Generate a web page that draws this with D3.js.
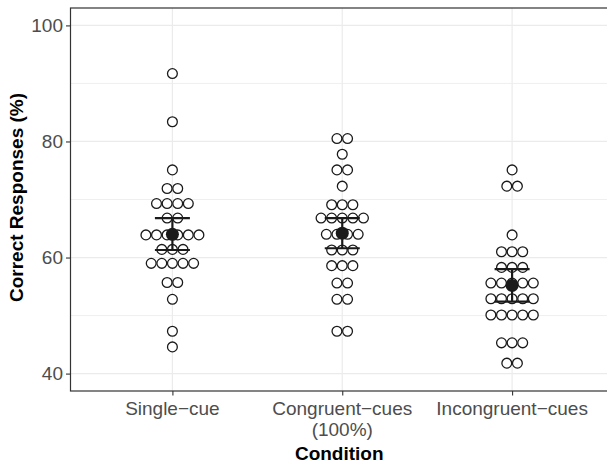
<!DOCTYPE html>
<html>
<head>
<meta charset="utf-8">
<script src="https://cdn.jsdelivr.net/npm/d3@7"></script>
<style>
  body { margin: 0; background: #fff; }
  svg { display: block; font-family: "Liberation Sans", Arial, sans-serif; }
</style>
</head>
<body>
<div id="chart"></div>
<script>
// categories (lines of each x label)
var conditions = ["Single-cue", "Congruent-cues", "Incongruent-cues"];
var conditionLabels = [["Single\u2212cue"], ["Congruent\u2212cues", "(100%)"], ["Incongruent\u2212cues"]];

// individual scores (% correct)
var singleCue = [91.7, 83.4, 75.1, 71.9, 71.9, 69.3, 69.3, 69.3, 69.3, 66.8, 66.8,
    63.9, 63.9, 63.9, 63.9, 63.9, 63.9, 61.4, 61.4, 61.4,
    59.0, 59.0, 59.0, 59.0, 59.0, 55.7, 55.7, 52.8, 47.3, 44.6];
var congruentCues = [80.5, 80.5, 77.8, 75.1, 75.1, 72.3, 69.1, 69.1, 69.1,
    66.8, 66.8, 66.8, 66.8, 66.8, 64.0, 64.0, 64.0, 64.0, 61.3, 61.3, 61.3,
    58.6, 58.6, 58.6, 55.6, 55.6, 52.8, 52.8, 47.3, 47.3];
var incongruentCues = [75.1, 72.3, 72.3, 63.9, 61.0, 61.0, 61.0, 58.3, 58.3, 58.3,
    55.6, 55.6, 55.6, 55.6, 55.6, 52.9, 52.9, 52.9, 52.9, 52.9,
    50.1, 50.1, 50.1, 50.1, 50.1, 45.3, 45.3, 45.3, 41.8, 41.8];

// summary: mean and interval
var means = [64.0, 64.2, 55.2];
var ciLow = [61.3, 61.6, 52.4];
var ciHigh = [66.8, 66.8, 58.0];

var yTicks = [40, 60, 80, 100];
var yMinor = [50, 70, 90];

var svgWidth = 607;
var svgHeight = 465;
var panel = { left: 70.5, top: 8, right: 614, bottom: 391 };

var svg = d3.select("#chart")
    .append("svg")
    .attr("width", svgWidth)
    .attr("height", svgHeight);

var x = d3.scalePoint()
    .domain(conditions)
    .range([panel.left, panel.right])
    .padding(0.6);

var y = d3.scaleLinear()
    .domain([37, 103])
    .range([panel.bottom, panel.top]);

// grid
var grid = svg.append("g");
grid.selectAll(".minor")
    .data(yMinor)
    .enter()
    .append("line")
    .attr("x1", panel.left).attr("x2", panel.right)
    .attr("y1", d => y(d)).attr("y2", d => y(d))
    .attr("stroke", "#ebebeb")
    .attr("stroke-width", 0.8);
grid.selectAll(".major")
    .data(yTicks)
    .enter()
    .append("line")
    .attr("x1", panel.left).attr("x2", panel.right)
    .attr("y1", d => y(d)).attr("y2", d => y(d))
    .attr("stroke", "#ebebeb")
    .attr("stroke-width", 1.2);
grid.selectAll(".vert")
    .data(conditions)
    .enter()
    .append("line")
    .attr("x1", d => x(d)).attr("x2", d => x(d))
    .attr("y1", panel.top).attr("y2", panel.bottom)
    .attr("stroke", "#ebebeb")
    .attr("stroke-width", 1.2);

// dots, stacked centred in each row
var dotStep = 10.6;
var groups = [singleCue, congruentCues, incongruentCues];
var dots = [];
groups.forEach(function(values, gi) {
    var rows = d3.group(values, v => v);
    rows.forEach(function(members, v) {
        members.forEach(function(m, i) {
            dots.push({ cond: conditions[gi], value: v, offset: i - (members.length - 1) / 2 });
        });
    });
});

svg.append("g")
    .selectAll("circle")
    .data(dots)
    .enter()
    .append("circle")
    .attr("cx", d => x(d.cond) + d.offset * dotStep)
    .attr("cy", d => y(d.value))
    .attr("r", 4.9)
    .attr("fill", "#fff")
    .attr("stroke", "#1a1a1a")
    .attr("stroke-width", 1.3);

// error bars and means
var summary = conditions.map((c, i) => ({ cond: c, mean: means[i], lo: ciLow[i], hi: ciHigh[i] }));
var eb = svg.append("g").selectAll("g")
    .data(summary)
    .enter()
    .append("g")
    .attr("stroke", "#1a1a1a")
    .attr("stroke-width", 2.2);
eb.append("line")
    .attr("x1", d => x(d.cond)).attr("x2", d => x(d.cond))
    .attr("y1", d => y(d.lo)).attr("y2", d => y(d.hi));
eb.append("line")
    .attr("x1", d => x(d.cond) - 17.5).attr("x2", d => x(d.cond) + 17.5)
    .attr("y1", d => y(d.lo)).attr("y2", d => y(d.lo));
eb.append("line")
    .attr("x1", d => x(d.cond) - 17.5).attr("x2", d => x(d.cond) + 17.5)
    .attr("y1", d => y(d.hi)).attr("y2", d => y(d.hi));
svg.append("g")
    .selectAll("circle")
    .data(summary)
    .enter()
    .append("circle")
    .attr("cx", d => x(d.cond))
    .attr("cy", d => y(d.mean))
    .attr("r", 6.5)
    .attr("fill", "#1a1a1a");

// panel border
svg.append("rect")
    .attr("x", panel.left)
    .attr("y", panel.top)
    .attr("width", panel.right - panel.left)
    .attr("height", panel.bottom - panel.top)
    .attr("fill", "none")
    .attr("stroke", "#333")
    .attr("stroke-width", 1.2);

// axes
var leftAxis = d3.axisLeft(y).tickValues(yTicks).tickSize(4.5).tickPadding(3);
var yAxis = svg.append("g")
    .attr("transform", `translate(${panel.left}, 0)`)
    .call(leftAxis);
yAxis.select(".domain").remove();
yAxis.selectAll("line").attr("stroke", "#333").attr("stroke-width", 1.1);
yAxis.selectAll("text")
    .attr("font-size", "19px")
    .attr("font-family", "Liberation Sans, Arial, sans-serif")
    .attr("fill", "#4d4d4d");

var bottomAxis = d3.axisBottom(x).tickSize(4.5).tickFormat("");
var xAxis = svg.append("g")
    .attr("transform", `translate(0, ${panel.bottom})`)
    .call(bottomAxis);
xAxis.select(".domain").remove();
xAxis.selectAll("line").attr("stroke", "#333").attr("stroke-width", 1.1);

var xLabels = svg.append("g")
    .selectAll("text")
    .data(conditions)
    .enter()
    .append("text")
    .attr("x", d => x(d))
    .attr("y", 414.5)
    .attr("text-anchor", "middle")
    .attr("font-size", "19px")
    .attr("fill", "#4d4d4d");
xLabels.selectAll("tspan")
    .data((d, i) => conditionLabels[i])
    .enter()
    .append("tspan")
    .attr("x", function() { return d3.select(this.parentNode).attr("x"); })
    .attr("dy", (d, i) => i === 0 ? 0 : 21.5)
    .text(d => d);

// titles
svg.append("text")
    .attr("x", (panel.left + panel.right) / 2 - 3)
    .attr("y", 460)
    .attr("text-anchor", "middle")
    .attr("font-size", "19px")
    .attr("font-weight", "bold")
    .attr("fill", "#000")
    .text("Condition");

svg.append("text")
    .attr("transform", `translate(23, ${(panel.top + panel.bottom) / 2 - 2}) rotate(-90)`)
    .attr("text-anchor", "middle")
    .attr("font-size", "19px")
    .attr("font-weight", "bold")
    .attr("fill", "#000")
    .text("Correct Responses (%)");
</script>
</body>
</html>
